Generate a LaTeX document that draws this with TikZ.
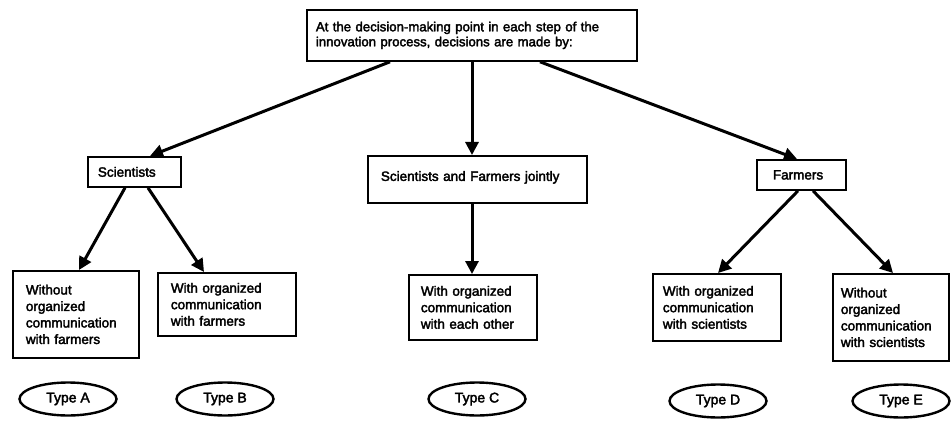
\documentclass[tikz,border=0pt]{standalone}
\usepackage{fontspec}
\newfontfamily\diagfont{Liberation Sans}[BoldFont=Liberation Sans, BoldFeatures={FakeBold=2.5}]
\usetikzlibrary{arrows.meta,shapes.geometric}

\begin{document}
\begin{tikzpicture}[x=1pt,y=-1pt,
  box/.style={draw, line width=1.8pt, anchor=north west, inner ysep=0pt,
    align=left, font=\diagfont\bfseries\fontsize{13.5}{16.5}\selectfont},
  kind/.style={draw, ellipse, line width=2.4pt, inner sep=0pt,
    minimum width=97pt, minimum height=33pt,
    font=\diagfont\bfseries\fontsize{14}{16}\selectfont},
  arr/.style={line width=3pt, -{Triangle[length=13pt,width=13pt]}}
]
\useasboundingbox (0,0) rectangle (952,422);

% decision-making level
\node[box, inner xsep=9pt, text width=312pt, minimum width=330pt, minimum height=51pt,
  font=\diagfont\bfseries\fontsize{13.2}{15}\selectfont]
  (top) at (306,9) {At the decision-making point in each step of the\\innovation process, decisions are made by:};

% who decides
\node[box, inner xsep=10pt, text width=73pt, minimum width=93pt, minimum height=30pt]
  (sci) at (87,156) {Scientists};
\node[box, inner xsep=13pt, text width=193pt, minimum width=219pt,
  text height=25pt, text depth=22pt]
  (joint) at (367,155) {Scientists and Farmers jointly};
\node[box, inner xsep=16pt, text width=57pt, minimum width=89pt, minimum height=30pt]
  (farm) at (756,159) {Farmers};

% communication modes
\node[box, inner xsep=13pt, text width=100pt, minimum width=126pt, minimum height=87pt]
  (a) at (12,270) {Without\\organized\\communication\\with farmers};
\node[box, inner xsep=13pt, text width=112pt, minimum width=138pt, minimum height=63pt]
  (b) at (157,272) {With organized\\communication\\with farmers};
\node[box, inner xsep=12pt, text width=104pt, minimum width=128pt, minimum height=65pt]
  (c) at (408,274) {With organized\\communication\\with each other};
\node[box, inner xsep=10pt, text width=108pt, minimum width=128pt, minimum height=67pt]
  (d) at (652,273) {With organized\\communication\\with scientists};
\node[box, inner xsep=8pt, text width=100pt, minimum width=116pt, minimum height=87pt]
  (e) at (832,273) {Without\\organized\\communication\\with scientists};

% resulting types
\node[kind] (ta) at (68,399) {Type A};
\node[kind] (tb) at (225,399) {Type B};
\node[kind] (tc) at (477,399) {Type C};
\node[kind] (td) at (718,401) {Type D};
\node[kind] (te) at (901,401) {Type E};

% connectors
\draw[arr] ([xshift=84pt]top.south west) -- ([xshift=63pt]sci.north west);
\draw[arr] ([xshift=166pt]top.south west) -- ([xshift=105pt]joint.north west);
\draw[arr] ([xshift=234pt]top.south west) -- ([xshift=41pt]farm.north west);
\draw[arr] ([xshift=38pt]sci.south west) -- ([xshift=67pt]a.north west);
\draw[arr] ([xshift=61pt]sci.south west) -- ([xshift=47pt]b.north west);
\draw[arr] ([xshift=105pt]joint.south west) -- ([xshift=64pt]c.north west);
\draw[arr] ([xshift=42pt]farm.south west) -- ([xshift=66pt]d.north west);
\draw[arr] ([xshift=57pt]farm.south west) -- ([xshift=61pt]e.north west);
\end{tikzpicture}
\end{document}
